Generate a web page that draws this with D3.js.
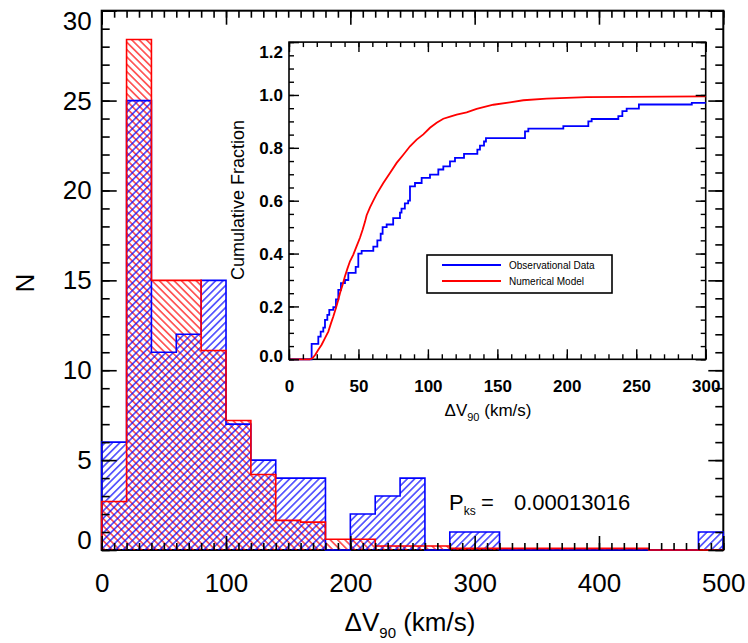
<!DOCTYPE html>
<html lang="en">
<head>
<meta charset="utf-8">
<title>Delta V90 distribution</title>
<script src="https://d3js.org/d3.v7.min.js"></script>
<style>
  body { margin: 0; background: #fff; }
  svg text { font-family: "Liberation Sans", Arial, Helvetica, sans-serif; fill: #000; }
  .axis path { display: none; }
  .axis line { stroke: #000; stroke-width: 1.6; }
  .inset .axis line { stroke-width: 1.4; }
</style>
</head>
<body>
<div id="chart"></div>
<script>
"use strict"

// 20 km/s bins, lower edges
var binStart = [0, 20, 40, 60, 80, 100, 120, 140, 160, 180, 200, 220, 240,
                260, 280, 300, 320, 340, 360, 380, 400, 420, 440, 460, 480];
var binWidth = 20;
// observed counts (blue) and scaled model counts (red)
var obsCounts = [6, 25, 11, 12, 15, 7, 5, 4, 4, 0, 2, 3, 4,
                 0, 1, 1, 0, 0, 0, 0, 0, 0, 0, 0, 1];
var modelCounts = [2.7, 28.4, 15, 15, 11.1, 7.2, 4.2, 1.65, 1.55, 0.6, 0.6, 0.22, 0.22,
                   0.22, 0.09, 0.09, 0.09, 0.09, 0.09, 0.09, 0.09, 0.09, 0, 0, 0];

// cumulative fractions for the inset
var obsCdfV = [0, 16.3, 21.1, 22.8, 24.7, 25.9, 27.6, 29.0, 31.9, 33.8, 35.5, 37.4, 40.3,
               42.7, 48.0, 49.9, 52.3, 60.7, 63.6, 66.0, 67.4, 70.3, 75.0, 79.9, 81.0,
               83.4, 85.8, 87.1, 90.7, 95.5, 101.5, 107.5, 111.1, 115.9, 119.5, 126.0,
               135.6, 137.5, 140.4, 141.8, 169.9, 172.3, 197.5, 215.5, 217.9, 237.1,
               240.0, 243.1, 251.9, 290.0, 300];
var obsCdfF = [0, 0.058, 0.086, 0.105, 0.12, 0.149, 0.168, 0.187, 0.197, 0.227, 0.263, 0.288, 0.30,
               0.327, 0.35, 0.40, 0.41, 0.426, 0.45, 0.475, 0.50, 0.51, 0.534, 0.555, 0.57,
               0.59, 0.60, 0.654, 0.667, 0.686, 0.699, 0.718, 0.73, 0.749, 0.762, 0.777,
               0.793, 0.808, 0.824, 0.837, 0.862, 0.873, 0.882, 0.90, 0.909, 0.92,
               0.939, 0.948, 0.964, 0.97, 0.97];
var modelCdfV = [0, 15, 17, 18.9, 21.1, 23.5, 25.9, 28.3, 30.2, 31.9, 33.8, 35.5, 36.7,
                 38.6, 40.3, 42.0, 43.9, 46.3, 48.7, 51.1, 53.0, 54.7, 55.9, 58.3, 60.7,
                 63.1, 67.9, 72.7, 77.5, 82.3, 87.1, 91.9, 96.7, 101.5, 106.3, 111.1,
                 116.0, 120.7, 127.9, 135.1, 147.1, 159.1, 168.7, 185.5, 214.3, 300];
var modelCdfF = [0, 0, 0.005, 0.017, 0.036, 0.055, 0.08, 0.105, 0.136, 0.162, 0.194, 0.225, 0.25,
                 0.282, 0.314, 0.342, 0.371, 0.396, 0.428, 0.46, 0.49, 0.52, 0.545, 0.575, 0.60,
                 0.625, 0.667, 0.705, 0.743, 0.774, 0.806, 0.831, 0.851, 0.876, 0.895, 0.91,
                 0.918, 0.926, 0.934, 0.947, 0.963, 0.972, 0.98, 0.986, 0.992, 0.995];

var legendNames = ["Observational Data", "Numerical Model"];
var pksValue = "0.00013016";

var azul = "#0000ff", vermelho = "#ff0000";

var svg = d3.select("#chart").append("svg")
  .attr("width", 748).attr("height", 643);

// hatch patterns
var defs = svg.append("defs");
function hatch(id, cor, ang) {
  defs.append("pattern")
      .attr("id", id)
      .attr("patternUnits", "userSpaceOnUse")
      .attr("width", 5.2).attr("height", 5.2)
      .attr("patternTransform", "rotate(" + ang + ")")
    .append("line")
      .attr("x1", 2.6).attr("y1", 0).attr("x2", 2.6).attr("y2", 5.2)
      .attr("stroke", cor).attr("stroke-width", 1.15);
}
hatch("hBlue", azul, 45);
hatch("hRed", vermelho, -45);

/* ---------- main histogram ---------- */
var x = d3.scaleLinear().domain([0, 500]).range([101.7, 723.3]);
var y = d3.scaleLinear().domain([0, 30]).range([550, 10.7]);

var main = svg.append("g");

main.append("rect")
  .attr("x", x(0)).attr("y", y(30))
  .attr("width", x(500) - x(0)).attr("height", y(0) - y(30))
  .attr("fill", "none").attr("stroke", "#000").attr("stroke-width", 2);

function stepPoints(counts) {
  var pts = [[0, 0]];
  counts.forEach(function(c, i) { pts.push([binStart[i], c]); });
  pts.push([binStart[binStart.length - 1] + binWidth, counts[counts.length - 1]]);
  pts.push([binStart[binStart.length - 1] + binWidth, 0]);
  return pts;
}

var area = d3.area().curve(d3.curveStepAfter)
  .x(function(d) { return x(d[0]); })
  .y0(y(0))
  .y1(function(d) { return y(d[1]); });
var outline = d3.line().curve(d3.curveStepAfter)
  .x(function(d) { return x(d[0]); })
  .y(function(d) { return y(d[1]); });

var ptsObs = stepPoints(obsCounts), ptsMod = stepPoints(modelCounts);

main.append("path").attr("d", area(ptsMod)).attr("fill", "url(#hRed)");
main.append("path").attr("d", area(ptsObs)).attr("fill", "url(#hBlue)");
main.append("path").attr("d", outline(ptsObs))
  .attr("fill", "none").attr("stroke", azul).attr("stroke-width", 1.6);
main.append("path").attr("d", outline(ptsMod))
  .attr("fill", "none").attr("stroke", vermelho).attr("stroke-width", 1.6);

// axes (ticks point inward)
function eixo(g, gen, valores, tam, fmt, pad) {
  g.attr("class", "axis")
   .call(gen.tickValues(valores).tickSizeInner(-tam).tickSizeOuter(0)
            .tickPadding(pad).tickFormat(fmt));
  return g;
}
var xMinor = d3.range(0, 501, 10), xMajor = d3.range(0, 501, 100);
var yMinor = d3.range(0, 31, 1), yMajor = d3.range(0, 31, 5);

eixo(main.append("g").attr("transform", "translate(0," + y(0) + ")"), d3.axisBottom(x), xMinor, 7, "", 0);
eixo(main.append("g").attr("transform", "translate(0," + y(0) + ")"), d3.axisBottom(x), xMajor, 14, d3.format("d"), 24)
  .selectAll("text").style("font-size", "26px");
eixo(main.append("g").attr("transform", "translate(0," + y(30) + ")"), d3.axisTop(x), xMinor, 7, "", 0);
eixo(main.append("g").attr("transform", "translate(0," + y(30) + ")"), d3.axisTop(x), xMajor, 14, "", 0);

eixo(main.append("g").attr("transform", "translate(" + x(0) + ",0)"), d3.axisLeft(y), yMinor, 8, "", 0);
eixo(main.append("g").attr("transform", "translate(" + x(0) + ",0)"), d3.axisLeft(y), yMajor, 15, d3.format("d"), 10)
  .selectAll("text").style("font-size", "26px")
  .attr("dy", function(d) { return d === 30 ? 19 : (d === 0 ? -2 : 8.5); });
eixo(main.append("g").attr("transform", "translate(" + x(500) + ",0)"), d3.axisRight(y), yMinor, 8, "", 0);
eixo(main.append("g").attr("transform", "translate(" + x(500) + ",0)"), d3.axisRight(y), yMajor, 15, "", 0);

// titles
var xt = svg.append("text").attr("x", 410).attr("y", 631)
  .attr("text-anchor", "middle").style("font-size", "26px");
xt.append("tspan").text("\u0394V");
xt.append("tspan").attr("dy", 7).style("font-size", "15px").text("90");
xt.append("tspan").attr("dy", -7).text(" (km/s)");

svg.append("text")
  .attr("transform", "translate(25,283) rotate(-90)")
  .attr("text-anchor", "middle").attr("dy", "0.35em")
  .style("font-size", "26px").text("N");

var pks = svg.append("text").attr("x", 449).attr("y", 510).style("font-size", "22px");
pks.append("tspan").text("P");
pks.append("tspan").attr("dy", 5).style("font-size", "12px").text("ks");
pks.append("tspan").attr("x", 481).attr("dy", -5).text("=");
pks.append("tspan").attr("x", 514).text(pksValue);

/* ---------- inset: cumulative fractions ---------- */
var xi = d3.scaleLinear().domain([0, 300]).range([289, 705.7]);
var yi = d3.scaleLinear().domain([0, 1.2]).range([359.3, 42.1]);

var inset = svg.append("g").attr("class", "inset");

inset.append("rect")
  .attr("x", xi(0)).attr("y", yi(1.2))
  .attr("width", xi(300) - xi(0)).attr("height", yi(0) - yi(1.2))
  .attr("fill", "#fff").attr("stroke", "#000").attr("stroke-width", 1.6);

var cdfStep = d3.line().curve(d3.curveStepAfter)
  .x(function(d) { return xi(d[0]); })
  .y(function(d) { return yi(d[1]); });
var cdfLine = d3.line()
  .x(function(d) { return xi(d[0]); })
  .y(function(d) { return yi(d[1]); });

inset.append("path")
  .attr("d", cdfStep(obsCdfV.map(function(v, i) { return [v, obsCdfF[i]]; })))
  .attr("fill", "none").attr("stroke", azul).attr("stroke-width", 1.8);
inset.append("path")
  .attr("d", cdfLine(modelCdfV.map(function(v, i) { return [v, modelCdfF[i]]; })))
  .attr("fill", "none").attr("stroke", vermelho).attr("stroke-width", 1.8);

var xiMinor = d3.range(0, 301, 10), xiMajor = d3.range(0, 301, 50);
var yiMinor = d3.range(0, 1.21, 0.05), yiMajor = d3.range(0, 1.21, 0.2);

eixo(inset.append("g").attr("transform", "translate(0," + yi(0) + ")"), d3.axisBottom(xi), xiMinor, 5, "", 0);
eixo(inset.append("g").attr("transform", "translate(0," + yi(0) + ")"), d3.axisBottom(xi), xiMajor, 10, d3.format("d"), 21)
  .selectAll("text").style("font-size", "17px").style("font-weight", "bold");
eixo(inset.append("g").attr("transform", "translate(0," + yi(1.2) + ")"), d3.axisTop(xi), xiMinor, 5, "", 0);
eixo(inset.append("g").attr("transform", "translate(0," + yi(1.2) + ")"), d3.axisTop(xi), xiMajor, 10, "", 0);

eixo(inset.append("g").attr("transform", "translate(" + xi(0) + ",0)"), d3.axisLeft(yi), yiMinor, 5, "", 0);
eixo(inset.append("g").attr("transform", "translate(" + xi(0) + ",0)"), d3.axisLeft(yi), yiMajor, 10, d3.format(".1f"), 6)
  .selectAll("text").style("font-size", "17px").style("font-weight", "bold")
  .attr("dy", function(d) { return d > 1.1 ? 15 : (d < 0.1 ? 2 : 6); });
eixo(inset.append("g").attr("transform", "translate(" + xi(300) + ",0)"), d3.axisRight(yi), yiMinor, 5, "", 0);
eixo(inset.append("g").attr("transform", "translate(" + xi(300) + ",0)"), d3.axisRight(yi), yiMajor, 10, "", 0);

var xit = inset.append("text").attr("x", 488).attr("y", 416)
  .attr("text-anchor", "middle").style("font-size", "17px");
xit.append("tspan").text("\u0394V");
xit.append("tspan").attr("dy", 5).style("font-size", "11px").text("90");
xit.append("tspan").attr("dy", -5).text(" (km/s)");

inset.append("text")
  .attr("transform", "translate(238,200) rotate(-90)")
  .attr("text-anchor", "middle").attr("dy", "0.35em")
  .style("font-size", "18px").text("Cumulative Fraction");

// legend
var leg = inset.append("g");
leg.append("rect").attr("x", 427).attr("y", 255).attr("width", 185).attr("height", 38)
  .attr("fill", "#fff").attr("stroke", "#000").attr("stroke-width", 1.6);
var legItens = leg.selectAll("g.item").data(legendNames).enter()
  .append("g").attr("class", "item")
  .attr("transform", function(d, i) { return "translate(0," + (265 + i * 16) + ")"; });
legItens.append("line").attr("x1", 442).attr("x2", 501)
  .attr("stroke", function(d, i) { return i === 0 ? azul : vermelho; })
  .attr("stroke-width", 1.8);
legItens.append("text").attr("x", 509).attr("dy", "0.35em")
  .style("font-size", "10px").text(function(d) { return d; });
</script>
</body>
</html>
